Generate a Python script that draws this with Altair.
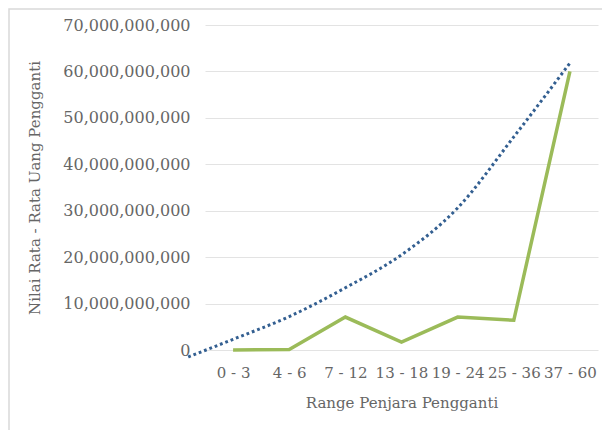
import altair as alt
import pandas as pd

categories = ["0 - 3", "4 - 6", "7 - 12", "13 - 18", "19 - 24", "25 - 36", "37 - 60"]
values = [0.0e9, 0.1e9, 7.1e9, 1.7e9, 7.1e9, 6.4e9, 60.0e9]

# trendline (position in category units, value)
trend_pos = [0.2, 1, 2, 3, 4, 5, 6, 7]
trend_val = [-1.5e9, 2.3e9, 7.2e9, 13.4e9, 20.5e9, 30.6e9, 45.9e9, 61.8e9]

df = pd.DataFrame({"pos": list(range(1, len(categories) + 1)), "cat": categories, "val": values})
tdf = pd.DataFrame({"pos": trend_pos, "val": trend_val})

label_expr = "[" + ",".join("'%s'" % c for c in categories) + "][datum.value - 1]"

FONT = "DejaVu Serif"
GREY = "#666666"

x_scale = alt.Scale(domain=[0.5, 7.5], nice=False, zero=False)
y_scale = alt.Scale(domain=[0, 70e9], nice=False)

x_axis = alt.Axis(
    values=list(range(1, 8)), labelExpr=label_expr, grid=False, domain=False, ticks=False,
    labelPadding=15, labelFont=FONT, labelFontSize=15, labelColor=GREY,
    title="Range Penjara Pengganti", titleFont=FONT, titleFontSize=15, titleColor=GREY,
    titleFontWeight="normal", titlePadding=15,
)
y_axis = alt.Axis(
    values=[i * 10e9 for i in range(8)], format=",d", grid=True, gridColor="#e3e3e3", gridWidth=1.2,
    domain=False, ticks=False, labelPadding=15, labelFont=FONT, labelFontSize=16, labelColor=GREY,
    title="Nilai Rata - Rata Uang Pengganti", titleFont=FONT, titleFontSize=15, titleColor=GREY,
    titleFontWeight="normal", titlePadding=20,
)

line = alt.Chart(df).mark_line(color="#9BBB59", strokeWidth=3.5, clip=False).encode(
    x=alt.X("pos:Q", scale=x_scale, axis=x_axis),
    y=alt.Y("val:Q", scale=y_scale, axis=y_axis),
)

trend = alt.Chart(tdf).mark_line(
    color="#335F91", strokeWidth=3, strokeDash=[2.8, 2.9], interpolate="monotone", clip=False
).encode(
    x=alt.X("pos:Q", scale=x_scale),
    y=alt.Y("val:Q", scale=y_scale),
)

border = alt.Chart(pd.DataFrame({"a": [0]})).mark_rect(
    fill=None, stroke="#d9d9d9", strokeWidth=1.5, clip=False
).encode(
    x=alt.value(-196), x2=alt.value(420), y=alt.value(-16), y2=alt.value(420)
)

chart = alt.layer(trend, line, border).properties(
    width=393, height=325,
    autosize=alt.AutoSizeParams(type="none"),
    padding={"left": 197, "top": 17, "right": 4, "bottom": 80},
).configure_view(stroke=None)

chart.save("out.html", embed_options={"renderer": "svg", "actions": False})
